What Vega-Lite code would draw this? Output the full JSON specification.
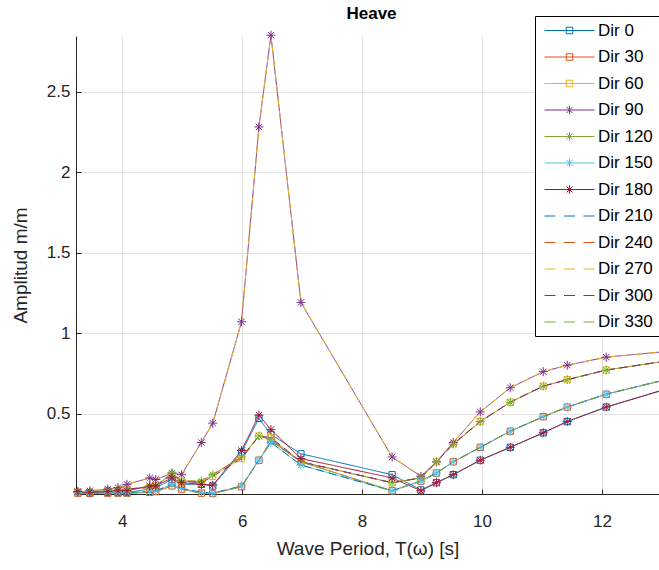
{
"$schema": "https://vega.github.io/schema/vega-lite/v6.json",
"width": 583, "height": 458,
"autosize": {"type": "none"},
"padding": {"left": 76, "top": 36, "right": 0, "bottom": 76},
"background": "#ffffff",
"title": {"text": "Heave", "fontSize": 17, "fontWeight": "bold", "font": "Liberation Sans", "color": "#000000", "frame": "group", "baseline": "bottom", "offset": 5, "dx": 4, "dy": 29},
"config": {"view": {"stroke": null}, "font": "Liberation Sans"},
"data": {"values": [
{"T":3.26,"A":0.01,"d":"Dir 0"},{"T":3.46,"A":0.005,"d":"Dir 0"},{"T":3.76,"A":0.01,"d":"Dir 0"},{"T":3.93,"A":0.01,"d":"Dir 0"},{"T":4.08,"A":0.01,"d":"Dir 0"},{"T":4.46,"A":0.03,"d":"Dir 0"},{"T":4.56,"A":0.04,"d":"Dir 0"},{"T":4.83,"A":0.09,"d":"Dir 0"},{"T":4.99,"A":0.06,"d":"Dir 0"},{"T":5.32,"A":0.06,"d":"Dir 0"},{"T":5.51,"A":0.05,"d":"Dir 0"},{"T":5.99,"A":0.26,"d":"Dir 0"},{"T":6.28,"A":0.47,"d":"Dir 0"},{"T":6.48,"A":0.37,"d":"Dir 0"},{"T":6.98,"A":0.25,"d":"Dir 0"},{"T":8.5,"A":0.12,"d":"Dir 0"},{"T":8.98,"A":0.025,"d":"Dir 0"},{"T":9.24,"A":0.07,"d":"Dir 0"},{"T":9.52,"A":0.12,"d":"Dir 0"},{"T":9.97,"A":0.21,"d":"Dir 0"},{"T":10.47,"A":0.29,"d":"Dir 0"},{"T":11.02,"A":0.38,"d":"Dir 0"},{"T":11.42,"A":0.45,"d":"Dir 0"},{"T":12.07,"A":0.54,"d":"Dir 0"},{"T":13.5,"A":0.7,"d":"Dir 0"},
{"T":3.26,"A":0.005,"d":"Dir 30"},{"T":3.46,"A":0.005,"d":"Dir 30"},{"T":3.76,"A":0.005,"d":"Dir 30"},{"T":3.93,"A":0.005,"d":"Dir 30"},{"T":4.08,"A":0.005,"d":"Dir 30"},{"T":4.46,"A":0.01,"d":"Dir 30"},{"T":4.56,"A":0.015,"d":"Dir 30"},{"T":4.83,"A":0.05,"d":"Dir 30"},{"T":4.99,"A":0.03,"d":"Dir 30"},{"T":5.32,"A":0.005,"d":"Dir 30"},{"T":5.51,"A":0.003,"d":"Dir 30"},{"T":5.99,"A":0.045,"d":"Dir 30"},{"T":6.28,"A":0.21,"d":"Dir 30"},{"T":6.48,"A":0.33,"d":"Dir 30"},{"T":6.98,"A":0.2,"d":"Dir 30"},{"T":8.5,"A":0.02,"d":"Dir 30"},{"T":8.98,"A":0.08,"d":"Dir 30"},{"T":9.24,"A":0.13,"d":"Dir 30"},{"T":9.52,"A":0.2,"d":"Dir 30"},{"T":9.97,"A":0.29,"d":"Dir 30"},{"T":10.47,"A":0.39,"d":"Dir 30"},{"T":11.02,"A":0.48,"d":"Dir 30"},{"T":11.42,"A":0.54,"d":"Dir 30"},{"T":12.07,"A":0.62,"d":"Dir 30"},{"T":13.5,"A":0.75,"d":"Dir 30"},
{"T":3.26,"A":0.01,"d":"Dir 60"},{"T":3.46,"A":0.01,"d":"Dir 60"},{"T":3.76,"A":0.02,"d":"Dir 60"},{"T":3.93,"A":0.02,"d":"Dir 60"},{"T":4.08,"A":0.03,"d":"Dir 60"},{"T":4.46,"A":0.04,"d":"Dir 60"},{"T":4.56,"A":0.05,"d":"Dir 60"},{"T":4.83,"A":0.12,"d":"Dir 60"},{"T":4.99,"A":0.08,"d":"Dir 60"},{"T":5.32,"A":0.07,"d":"Dir 60"},{"T":5.51,"A":0.11,"d":"Dir 60"},{"T":5.99,"A":0.22,"d":"Dir 60"},{"T":6.28,"A":0.36,"d":"Dir 60"},{"T":6.48,"A":0.35,"d":"Dir 60"},{"T":6.98,"A":0.2,"d":"Dir 60"},{"T":8.5,"A":0.07,"d":"Dir 60"},{"T":8.98,"A":0.1,"d":"Dir 60"},{"T":9.24,"A":0.2,"d":"Dir 60"},{"T":9.52,"A":0.31,"d":"Dir 60"},{"T":9.97,"A":0.45,"d":"Dir 60"},{"T":10.47,"A":0.57,"d":"Dir 60"},{"T":11.02,"A":0.67,"d":"Dir 60"},{"T":11.42,"A":0.71,"d":"Dir 60"},{"T":12.07,"A":0.77,"d":"Dir 60"},{"T":13.5,"A":0.85,"d":"Dir 60"},
{"T":3.26,"A":0.01,"d":"Dir 90"},{"T":3.46,"A":0.02,"d":"Dir 90"},{"T":3.76,"A":0.03,"d":"Dir 90"},{"T":3.93,"A":0.04,"d":"Dir 90"},{"T":4.08,"A":0.06,"d":"Dir 90"},{"T":4.46,"A":0.1,"d":"Dir 90"},{"T":4.56,"A":0.09,"d":"Dir 90"},{"T":4.83,"A":0.13,"d":"Dir 90"},{"T":4.99,"A":0.12,"d":"Dir 90"},{"T":5.32,"A":0.32,"d":"Dir 90"},{"T":5.51,"A":0.44,"d":"Dir 90"},{"T":5.99,"A":1.07,"d":"Dir 90"},{"T":6.28,"A":2.28,"d":"Dir 90"},{"T":6.48,"A":2.85,"d":"Dir 90"},{"T":6.98,"A":1.19,"d":"Dir 90"},{"T":8.5,"A":0.23,"d":"Dir 90"},{"T":8.98,"A":0.11,"d":"Dir 90"},{"T":9.24,"A":0.2,"d":"Dir 90"},{"T":9.52,"A":0.32,"d":"Dir 90"},{"T":9.97,"A":0.51,"d":"Dir 90"},{"T":10.47,"A":0.66,"d":"Dir 90"},{"T":11.02,"A":0.76,"d":"Dir 90"},{"T":11.42,"A":0.8,"d":"Dir 90"},{"T":12.07,"A":0.85,"d":"Dir 90"},{"T":13.5,"A":0.9,"d":"Dir 90"},
{"T":3.26,"A":0.012,"d":"Dir 120"},{"T":3.46,"A":0.012,"d":"Dir 120"},{"T":3.76,"A":0.02,"d":"Dir 120"},{"T":3.93,"A":0.025,"d":"Dir 120"},{"T":4.08,"A":0.03,"d":"Dir 120"},{"T":4.46,"A":0.045,"d":"Dir 120"},{"T":4.56,"A":0.05,"d":"Dir 120"},{"T":4.83,"A":0.13,"d":"Dir 120"},{"T":4.99,"A":0.08,"d":"Dir 120"},{"T":5.32,"A":0.08,"d":"Dir 120"},{"T":5.51,"A":0.12,"d":"Dir 120"},{"T":5.99,"A":0.23,"d":"Dir 120"},{"T":6.28,"A":0.36,"d":"Dir 120"},{"T":6.48,"A":0.34,"d":"Dir 120"},{"T":6.98,"A":0.2,"d":"Dir 120"},{"T":8.5,"A":0.07,"d":"Dir 120"},{"T":8.98,"A":0.1,"d":"Dir 120"},{"T":9.24,"A":0.2,"d":"Dir 120"},{"T":9.52,"A":0.31,"d":"Dir 120"},{"T":9.97,"A":0.45,"d":"Dir 120"},{"T":10.47,"A":0.57,"d":"Dir 120"},{"T":11.02,"A":0.67,"d":"Dir 120"},{"T":11.42,"A":0.71,"d":"Dir 120"},{"T":12.07,"A":0.77,"d":"Dir 120"},{"T":13.5,"A":0.85,"d":"Dir 120"},
{"T":3.26,"A":0.008,"d":"Dir 150"},{"T":3.46,"A":0.005,"d":"Dir 150"},{"T":3.76,"A":0.008,"d":"Dir 150"},{"T":3.93,"A":0.008,"d":"Dir 150"},{"T":4.08,"A":0.008,"d":"Dir 150"},{"T":4.46,"A":0.015,"d":"Dir 150"},{"T":4.56,"A":0.02,"d":"Dir 150"},{"T":4.83,"A":0.06,"d":"Dir 150"},{"T":4.99,"A":0.035,"d":"Dir 150"},{"T":5.32,"A":0.01,"d":"Dir 150"},{"T":5.51,"A":0.005,"d":"Dir 150"},{"T":5.99,"A":0.05,"d":"Dir 150"},{"T":6.28,"A":0.21,"d":"Dir 150"},{"T":6.48,"A":0.32,"d":"Dir 150"},{"T":6.98,"A":0.18,"d":"Dir 150"},{"T":8.5,"A":0.02,"d":"Dir 150"},{"T":8.98,"A":0.08,"d":"Dir 150"},{"T":9.24,"A":0.13,"d":"Dir 150"},{"T":9.52,"A":0.2,"d":"Dir 150"},{"T":9.97,"A":0.29,"d":"Dir 150"},{"T":10.47,"A":0.39,"d":"Dir 150"},{"T":11.02,"A":0.48,"d":"Dir 150"},{"T":11.42,"A":0.54,"d":"Dir 150"},{"T":12.07,"A":0.62,"d":"Dir 150"},{"T":13.5,"A":0.75,"d":"Dir 150"},
{"T":3.26,"A":0.015,"d":"Dir 180"},{"T":3.46,"A":0.01,"d":"Dir 180"},{"T":3.76,"A":0.015,"d":"Dir 180"},{"T":3.93,"A":0.02,"d":"Dir 180"},{"T":4.08,"A":0.02,"d":"Dir 180"},{"T":4.46,"A":0.05,"d":"Dir 180"},{"T":4.56,"A":0.05,"d":"Dir 180"},{"T":4.83,"A":0.1,"d":"Dir 180"},{"T":4.99,"A":0.07,"d":"Dir 180"},{"T":5.32,"A":0.06,"d":"Dir 180"},{"T":5.51,"A":0.055,"d":"Dir 180"},{"T":5.99,"A":0.27,"d":"Dir 180"},{"T":6.28,"A":0.49,"d":"Dir 180"},{"T":6.48,"A":0.4,"d":"Dir 180"},{"T":6.98,"A":0.22,"d":"Dir 180"},{"T":8.5,"A":0.1,"d":"Dir 180"},{"T":8.98,"A":0.02,"d":"Dir 180"},{"T":9.24,"A":0.07,"d":"Dir 180"},{"T":9.52,"A":0.12,"d":"Dir 180"},{"T":9.97,"A":0.21,"d":"Dir 180"},{"T":10.47,"A":0.29,"d":"Dir 180"},{"T":11.02,"A":0.38,"d":"Dir 180"},{"T":11.42,"A":0.45,"d":"Dir 180"},{"T":12.07,"A":0.54,"d":"Dir 180"},{"T":13.5,"A":0.7,"d":"Dir 180"},
{"T":3.26,"A":0.008,"d":"Dir 210"},{"T":3.46,"A":0.005,"d":"Dir 210"},{"T":3.76,"A":0.008,"d":"Dir 210"},{"T":3.93,"A":0.008,"d":"Dir 210"},{"T":4.08,"A":0.008,"d":"Dir 210"},{"T":4.46,"A":0.015,"d":"Dir 210"},{"T":4.56,"A":0.02,"d":"Dir 210"},{"T":4.83,"A":0.06,"d":"Dir 210"},{"T":4.99,"A":0.035,"d":"Dir 210"},{"T":5.32,"A":0.01,"d":"Dir 210"},{"T":5.51,"A":0.005,"d":"Dir 210"},{"T":5.99,"A":0.05,"d":"Dir 210"},{"T":6.28,"A":0.21,"d":"Dir 210"},{"T":6.48,"A":0.32,"d":"Dir 210"},{"T":6.98,"A":0.18,"d":"Dir 210"},{"T":8.5,"A":0.02,"d":"Dir 210"},{"T":8.98,"A":0.08,"d":"Dir 210"},{"T":9.24,"A":0.13,"d":"Dir 210"},{"T":9.52,"A":0.2,"d":"Dir 210"},{"T":9.97,"A":0.29,"d":"Dir 210"},{"T":10.47,"A":0.39,"d":"Dir 210"},{"T":11.02,"A":0.48,"d":"Dir 210"},{"T":11.42,"A":0.54,"d":"Dir 210"},{"T":12.07,"A":0.62,"d":"Dir 210"},{"T":13.5,"A":0.75,"d":"Dir 210"},
{"T":3.26,"A":0.012,"d":"Dir 240"},{"T":3.46,"A":0.012,"d":"Dir 240"},{"T":3.76,"A":0.02,"d":"Dir 240"},{"T":3.93,"A":0.025,"d":"Dir 240"},{"T":4.08,"A":0.03,"d":"Dir 240"},{"T":4.46,"A":0.045,"d":"Dir 240"},{"T":4.56,"A":0.05,"d":"Dir 240"},{"T":4.83,"A":0.13,"d":"Dir 240"},{"T":4.99,"A":0.08,"d":"Dir 240"},{"T":5.32,"A":0.08,"d":"Dir 240"},{"T":5.51,"A":0.12,"d":"Dir 240"},{"T":5.99,"A":0.23,"d":"Dir 240"},{"T":6.28,"A":0.36,"d":"Dir 240"},{"T":6.48,"A":0.34,"d":"Dir 240"},{"T":6.98,"A":0.2,"d":"Dir 240"},{"T":8.5,"A":0.07,"d":"Dir 240"},{"T":8.98,"A":0.1,"d":"Dir 240"},{"T":9.24,"A":0.2,"d":"Dir 240"},{"T":9.52,"A":0.31,"d":"Dir 240"},{"T":9.97,"A":0.45,"d":"Dir 240"},{"T":10.47,"A":0.57,"d":"Dir 240"},{"T":11.02,"A":0.67,"d":"Dir 240"},{"T":11.42,"A":0.71,"d":"Dir 240"},{"T":12.07,"A":0.77,"d":"Dir 240"},{"T":13.5,"A":0.85,"d":"Dir 240"},
{"T":3.26,"A":0.01,"d":"Dir 270"},{"T":3.46,"A":0.02,"d":"Dir 270"},{"T":3.76,"A":0.03,"d":"Dir 270"},{"T":3.93,"A":0.04,"d":"Dir 270"},{"T":4.08,"A":0.06,"d":"Dir 270"},{"T":4.46,"A":0.1,"d":"Dir 270"},{"T":4.56,"A":0.09,"d":"Dir 270"},{"T":4.83,"A":0.13,"d":"Dir 270"},{"T":4.99,"A":0.12,"d":"Dir 270"},{"T":5.32,"A":0.32,"d":"Dir 270"},{"T":5.51,"A":0.44,"d":"Dir 270"},{"T":5.99,"A":1.07,"d":"Dir 270"},{"T":6.28,"A":2.28,"d":"Dir 270"},{"T":6.48,"A":2.85,"d":"Dir 270"},{"T":6.98,"A":1.19,"d":"Dir 270"},{"T":8.5,"A":0.23,"d":"Dir 270"},{"T":8.98,"A":0.11,"d":"Dir 270"},{"T":9.24,"A":0.2,"d":"Dir 270"},{"T":9.52,"A":0.32,"d":"Dir 270"},{"T":9.97,"A":0.51,"d":"Dir 270"},{"T":10.47,"A":0.66,"d":"Dir 270"},{"T":11.02,"A":0.76,"d":"Dir 270"},{"T":11.42,"A":0.8,"d":"Dir 270"},{"T":12.07,"A":0.85,"d":"Dir 270"},{"T":13.5,"A":0.9,"d":"Dir 270"},
{"T":3.26,"A":0.01,"d":"Dir 300"},{"T":3.46,"A":0.01,"d":"Dir 300"},{"T":3.76,"A":0.02,"d":"Dir 300"},{"T":3.93,"A":0.02,"d":"Dir 300"},{"T":4.08,"A":0.03,"d":"Dir 300"},{"T":4.46,"A":0.04,"d":"Dir 300"},{"T":4.56,"A":0.05,"d":"Dir 300"},{"T":4.83,"A":0.12,"d":"Dir 300"},{"T":4.99,"A":0.08,"d":"Dir 300"},{"T":5.32,"A":0.07,"d":"Dir 300"},{"T":5.51,"A":0.11,"d":"Dir 300"},{"T":5.99,"A":0.22,"d":"Dir 300"},{"T":6.28,"A":0.36,"d":"Dir 300"},{"T":6.48,"A":0.35,"d":"Dir 300"},{"T":6.98,"A":0.2,"d":"Dir 300"},{"T":8.5,"A":0.07,"d":"Dir 300"},{"T":8.98,"A":0.1,"d":"Dir 300"},{"T":9.24,"A":0.2,"d":"Dir 300"},{"T":9.52,"A":0.31,"d":"Dir 300"},{"T":9.97,"A":0.45,"d":"Dir 300"},{"T":10.47,"A":0.57,"d":"Dir 300"},{"T":11.02,"A":0.67,"d":"Dir 300"},{"T":11.42,"A":0.71,"d":"Dir 300"},{"T":12.07,"A":0.77,"d":"Dir 300"},{"T":13.5,"A":0.85,"d":"Dir 300"},
{"T":3.26,"A":0.005,"d":"Dir 330"},{"T":3.46,"A":0.005,"d":"Dir 330"},{"T":3.76,"A":0.005,"d":"Dir 330"},{"T":3.93,"A":0.005,"d":"Dir 330"},{"T":4.08,"A":0.005,"d":"Dir 330"},{"T":4.46,"A":0.01,"d":"Dir 330"},{"T":4.56,"A":0.015,"d":"Dir 330"},{"T":4.83,"A":0.05,"d":"Dir 330"},{"T":4.99,"A":0.03,"d":"Dir 330"},{"T":5.32,"A":0.005,"d":"Dir 330"},{"T":5.51,"A":0.003,"d":"Dir 330"},{"T":5.99,"A":0.045,"d":"Dir 330"},{"T":6.28,"A":0.21,"d":"Dir 330"},{"T":6.48,"A":0.33,"d":"Dir 330"},{"T":6.98,"A":0.2,"d":"Dir 330"},{"T":8.5,"A":0.02,"d":"Dir 330"},{"T":8.98,"A":0.08,"d":"Dir 330"},{"T":9.24,"A":0.13,"d":"Dir 330"},{"T":9.52,"A":0.2,"d":"Dir 330"},{"T":9.97,"A":0.29,"d":"Dir 330"},{"T":10.47,"A":0.39,"d":"Dir 330"},{"T":11.02,"A":0.48,"d":"Dir 330"},{"T":11.42,"A":0.54,"d":"Dir 330"},{"T":12.07,"A":0.62,"d":"Dir 330"},{"T":13.5,"A":0.75,"d":"Dir 330"}
]},
"encoding": {
  "x": {"field": "T", "type": "quantitative",
    "scale": {"domain": [3.23, 12.95], "nice": false, "zero": false},
    "axis": {"values": [4, 6, 8, 10, 12], "title": "Wave Period, T(ω) [s]", "titleFontSize": 19, "titleFontWeight": "normal", "titleColor": "#262626", "titleFont": "Liberation Sans", "titlePadding": 10,
      "labelFontSize": 17, "labelColor": "#262626", "labelFont": "Liberation Sans", "labelPadding": 24,
      "domainColor": "#262626", "domainWidth": 1, "tickColor": "#262626", "tickSize": -5,
      "grid": true, "gridColor": "#e2e2e2", "gridWidth": 1}},
  "y": {"field": "A", "type": "quantitative",
    "scale": {"domain": [0, 2.845], "nice": false, "zero": true},
    "axis": {"values": [0.5, 1, 1.5, 2, 2.5], "format": "~g", "title": "Amplitud m/m", "titleFontSize": 19, "titleFontWeight": "normal", "titleColor": "#262626", "titleFont": "Liberation Sans", "titlePadding": 16,
      "labelFontSize": 17, "labelColor": "#262626", "labelFont": "Liberation Sans", "labelPadding": 11,
      "domainColor": "#262626", "domainWidth": 1, "tickColor": "#262626", "tickSize": -5,
      "grid": true, "gridColor": "#e2e2e2", "gridWidth": 1}}
},
"layer": [
  {"mark": {"type": "line", "strokeWidth": 1},
   "encoding": {
     "color": {"field": "d", "type": "nominal", "legend": null,
       "scale": {"domain": ["Dir 0","Dir 30","Dir 60","Dir 90","Dir 120","Dir 150","Dir 180","Dir 210","Dir 240","Dir 270","Dir 300","Dir 330"],
                 "range": ["#0072BD","#D95319","#EDB120","#7E2F8E","#77AC30","#4DBEEE","#A2142F","#0072BD","#D95319","#EDB120","#7E2F8E","#77AC30"]}},
     "strokeDash": {"field": "d", "type": "nominal", "legend": null,
       "scale": {"domain": ["Dir 0","Dir 30","Dir 60","Dir 90","Dir 120","Dir 150","Dir 180","Dir 210","Dir 240","Dir 270","Dir 300","Dir 330"],
                 "range": [[1,0],[1,0],[1,0],[1,0],[1,0],[1,0],[1,0],[8,5],[8,5],[8,5],[8,5],[8,5]]}}
   }},
  {"transform": [{"filter": "datum.T < 13 && indexof(['Dir 0','Dir 30','Dir 60'], datum.d) >= 0"}],
   "mark": {"type": "point", "filled": false, "strokeWidth": 1, "size": 81, "opacity": 1, "shape": "M-0.7,-0.7L0.7,-0.7L0.7,0.7L-0.7,0.7Z"},
   "encoding": {"color": {"field": "d", "type": "nominal", "legend": null,
       "scale": {"domain": ["Dir 0","Dir 30","Dir 60","Dir 90","Dir 120","Dir 150","Dir 180","Dir 210","Dir 240","Dir 270","Dir 300","Dir 330"],
                 "range": ["#0072BD","#D95319","#EDB120","#7E2F8E","#77AC30","#4DBEEE","#A2142F","#0072BD","#D95319","#EDB120","#7E2F8E","#77AC30"]}}}},
  {"transform": [{"filter": "datum.T < 13 && indexof(['Dir 90','Dir 120','Dir 150','Dir 180'], datum.d) >= 0"}],
   "mark": {"type": "point", "filled": false, "strokeWidth": 1, "size": 81, "opacity": 1, "shape": "M-1,0L1,0M0,-1L0,1M-0.7,-0.7L0.7,0.7M-0.7,0.7L0.7,-0.7"},
   "encoding": {"color": {"field": "d", "type": "nominal", "legend": null,
       "scale": {"domain": ["Dir 0","Dir 30","Dir 60","Dir 90","Dir 120","Dir 150","Dir 180","Dir 210","Dir 240","Dir 270","Dir 300","Dir 330"],
                 "range": ["#0072BD","#D95319","#EDB120","#7E2F8E","#77AC30","#4DBEEE","#A2142F","#0072BD","#D95319","#EDB120","#7E2F8E","#77AC30"]}}}},
  {"transform": [{"filter": "datum.T == 3.26"}],
   "mark": {"type": "point", "filled": false, "opacity": 0},
   "encoding": {
     "color": {"field": "d", "type": "nominal",
       "scale": {"domain": ["Dir 0","Dir 30","Dir 60","Dir 90","Dir 120","Dir 150","Dir 180","Dir 210","Dir 240","Dir 270","Dir 300","Dir 330"],
                 "range": ["#0072BD","#D95319","#EDB120","#7E2F8E","#77AC30","#4DBEEE","#A2142F","#0072BD","#D95319","#EDB120","#7E2F8E","#77AC30"]},
       "legend": {"title": null, "orient": "none", "legendX": 459, "legendY": -20, "symbolSize": 100, "symbolStrokeWidth": 1, "symbolOpacity": 1, "symbolFillColor": "transparent",
         "labelFontSize": 17, "labelFont": "Liberation Sans", "labelColor": "#000000", "labelOffset": 40, "rowPadding": 8.5, "padding": 6,
         "strokeColor": "#000000", "fillColor": "#ffffff", "cornerRadius": 0}},
     "shape": {"field": "d", "type": "nominal",
       "scale": {"domain": ["Dir 0","Dir 30","Dir 60","Dir 90","Dir 120","Dir 150","Dir 180","Dir 210","Dir 240","Dir 270","Dir 300","Dir 330"],
                 "range": ["M-1,0L9,0M3.35,-0.65L4.65,-0.65L4.65,0.65L3.35,0.65Z","M-1,0L9,0M3.35,-0.65L4.65,-0.65L4.65,0.65L3.35,0.65Z","M-1,0L9,0M3.35,-0.65L4.65,-0.65L4.65,0.65L3.35,0.65Z",
                           "M-1,0L9,0M4,-0.85L4,0.85M3.4,-0.6L4.6,0.6M3.4,0.6L4.6,-0.6","M-1,0L9,0M4,-0.85L4,0.85M3.4,-0.6L4.6,0.6M3.4,0.6L4.6,-0.6","M-1,0L9,0M4,-0.85L4,0.85M3.4,-0.6L4.6,0.6M3.4,0.6L4.6,-0.6","M-1,0L9,0M4,-0.85L4,0.85M3.4,-0.6L4.6,0.6M3.4,0.6L4.6,-0.6",
                           "M-1,0L1.2,0M2.9,0L5.1,0M6.8,0L9,0","M-1,0L1.2,0M2.9,0L5.1,0M6.8,0L9,0","M-1,0L1.2,0M2.9,0L5.1,0M6.8,0L9,0","M-1,0L1.2,0M2.9,0L5.1,0M6.8,0L9,0","M-1,0L1.2,0M2.9,0L5.1,0M6.8,0L9,0"]},
       "legend": {"title": null, "orient": "none", "legendX": 459, "legendY": -20, "symbolSize": 100, "symbolStrokeWidth": 1, "symbolOpacity": 1, "symbolFillColor": "transparent",
         "labelFontSize": 17, "labelFont": "Liberation Sans", "labelColor": "#000000", "labelOffset": 40, "rowPadding": 8.5, "padding": 6,
         "strokeColor": "#000000", "fillColor": "#ffffff", "cornerRadius": 0}}
   }}
],
"resolve": {"scale": {"shape": "independent", "color": "independent"}}
}
